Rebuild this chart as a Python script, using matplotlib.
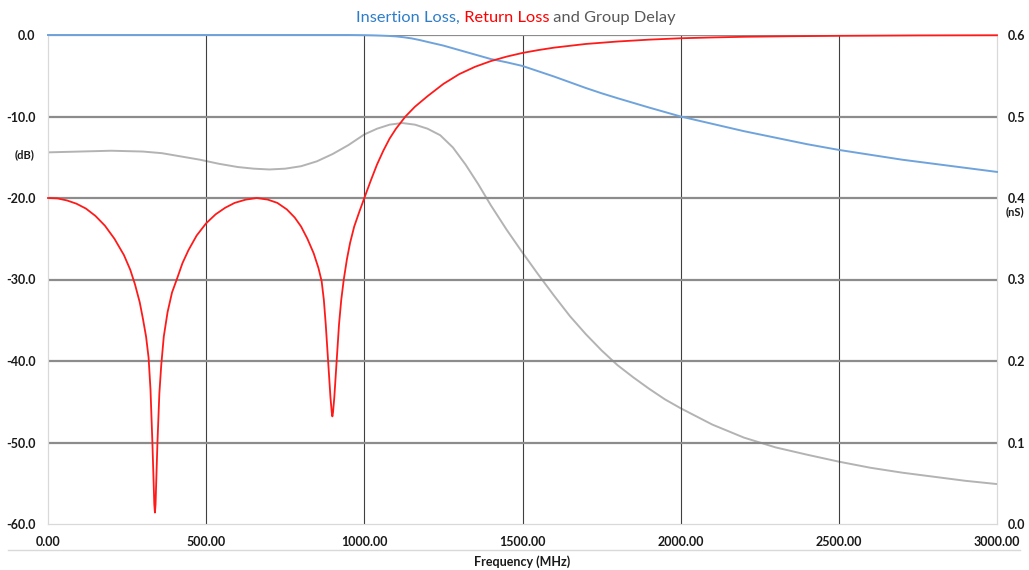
import numpy as np
import matplotlib
matplotlib.use("Agg")
import matplotlib.pyplot as plt
from matplotlib.lines import Line2D

plt.rcParams['font.family'] = ['Lato', 'DejaVu Sans']

# return loss (dB)
rl_freq = [0, 30, 60, 90, 120, 150, 180, 210, 240, 260, 275, 290, 300, 310, 318, 324,
           330, 334, 336, 338, 340, 342, 346, 352, 358, 366, 378, 392, 407, 425, 444,
           470, 500, 530, 560, 590, 625, 660, 695, 725, 755, 780, 800, 820, 840, 855,
           865, 872, 878, 883, 888, 893, 897, 899, 901, 905, 910, 915, 920, 927, 935,
           945, 955, 968, 985, 1000, 1020, 1040, 1060, 1080, 1100, 1130, 1160, 1200,
           1250, 1300, 1350, 1400, 1450, 1500, 1550, 1600, 1700, 1800, 1900, 2000,
           2100, 2200, 2350, 2500, 2750, 3000]
rl_db = [-20.0, -20.05, -20.3, -20.7, -21.3, -22.2, -23.4, -25.0, -27.0, -28.8, -30.6,
         -32.8, -34.8, -37.0, -39.6, -43.5, -50.0, -55.0, -57.6, -58.6, -57.6, -55.0,
         -50.0, -44.0, -40.5, -37.0, -34.0, -31.6, -30.0, -28.0, -26.4, -24.6, -23.1,
         -22.0, -21.2, -20.6, -20.2, -20.0, -20.2, -20.6, -21.4, -22.4, -23.5, -25.0,
         -26.8, -28.6, -30.2, -32.5, -35.5, -38.5, -41.5, -44.5, -46.3, -46.8, -46.3,
         -44.5, -41.5, -38.5, -35.5, -32.5, -30.0, -27.5, -25.5, -23.5, -21.6, -20.0,
         -17.9, -15.9, -14.2, -12.7, -11.5, -10.0, -8.8, -7.5, -6.0, -4.8, -3.9, -3.2,
         -2.65, -2.2, -1.85, -1.55, -1.1, -0.8, -0.57, -0.4, -0.3, -0.22, -0.15, -0.1,
         -0.05, -0.03]

# insertion loss (dB)
il_freq = [0, 500, 900, 950, 1000, 1025, 1050, 1075, 1100, 1125, 1150, 1175, 1200,
           1250, 1300, 1350, 1400, 1450, 1500, 1550, 1600, 1650, 1700, 1750, 1800,
           1900, 2000, 2100, 2200, 2300, 2400, 2500, 2600, 2700, 2800, 2900, 3000]
il_db = [0.0, 0.0, 0.0, 0.0, -0.02, -0.04, -0.07, -0.11, -0.17, -0.28, -0.42, -0.62,
         -0.85, -1.3, -1.85, -2.4, -2.95, -3.35, -3.8, -4.45, -5.1, -5.8, -6.5, -7.15,
         -7.75, -8.9, -10.0, -10.9, -11.8, -12.6, -13.4, -14.1, -14.7, -15.3, -15.8,
         -16.3, -16.8]

# group delay (nS)
gd_freq = [0, 100, 200, 300, 360, 420, 480, 540, 600, 650, 700, 750, 800, 850, 900,
           950, 1000, 1040, 1080, 1120, 1160, 1200, 1240, 1280, 1320, 1360, 1400, 1450,
           1500, 1550, 1600, 1650, 1700, 1750, 1800, 1850, 1900, 1950, 2000, 2100,
           2200, 2300, 2400, 2500, 2600, 2700, 2800, 2900, 3000]
gd_ns = [0.456, 0.457, 0.458, 0.457, 0.455, 0.451, 0.447, 0.442, 0.438, 0.436, 0.435,
         0.436, 0.439, 0.445, 0.454, 0.465, 0.478, 0.485, 0.490, 0.492, 0.490, 0.485,
         0.477, 0.462, 0.441, 0.417, 0.391, 0.361, 0.333, 0.306, 0.280, 0.255, 0.233,
         0.213, 0.195, 0.180, 0.166, 0.153, 0.142, 0.122, 0.106, 0.094, 0.085, 0.0765,
         0.069, 0.063, 0.058, 0.053, 0.049]

x_ticks = [0, 500, 1000, 1500, 2000, 2500, 3000]
db_ticks = [-60, -50, -40, -30, -20, -10, 0]
ns_ticks = [0.0, 0.1, 0.2, 0.3, 0.4, 0.5, 0.6]

W, H = 1029, 570
fig = plt.figure(figsize=(W / 100, H / 100), dpi=100)
ax = fig.add_axes([48 / W, 1 - 524 / H, (997 - 48) / W, (524 - 35) / H])
ax2 = ax.twinx()

ax.set_xlim(0, 3000)
ax.set_ylim(-60, 0)
ax2.set_ylim(0, 0.6)

# grid: dark vertical, gray horizontal
for xv in x_ticks[1:-1]:
    ax.axvline(xv, color='#404040', lw=0.8, zorder=1)
for yv in db_ticks[1:]:
    ax.axhline(yv, color='#8c8c8c', lw=1.6, zorder=1)

ax2.plot(gd_freq, gd_ns, color='#b3b3b3', lw=1.4, zorder=3)
ax.plot(il_freq, il_db, color='#6fa3dc', lw=1.4, zorder=4, clip_on=False)
ax.plot(rl_freq, rl_db, color='#ff1a1a', lw=1.3, zorder=5, clip_on=False)
ax.set_zorder(ax2.get_zorder() + 1)
ax.patch.set_visible(False)

tick_font = dict(fontsize=9, fontweight='bold', color='#1a1a1a')
ax.set_xticks(x_ticks)
ax.set_xticklabels([f"{v:.2f}" for v in x_ticks], **tick_font)
ax.set_yticks(db_ticks)
ax.set_yticklabels([f"{v:.1f}" for v in db_ticks], **tick_font)
ax2.set_yticks(ns_ticks)
ax2.set_yticklabels([f"{v:.1f}" for v in ns_ticks], **tick_font)
ax.tick_params(axis='x', length=0, pad=9)
ax.tick_params(axis='y', length=0, pad=9)
ax2.tick_params(axis='y', length=0, pad=8)

for a in (ax, ax2):
    for side in ('top', 'left', 'bottom', 'right'):
        a.spines[side].set_color('#d9d9d9')
    a.spines['top'].set_visible(False)

ax.set_xlabel("Frequency (MHz)", fontsize=9, fontweight='bold', color='#1a1a1a', labelpad=5)
fig.text(25 / W, 1 - 155 / H, "(dB)", fontsize=8, fontweight='bold', color='#1a1a1a',
         ha='center', va='center')
fig.text(1015 / W, 1 - 212 / H, "(nS)", fontsize=8, fontweight='bold', color='#1a1a1a',
         ha='center', va='center')

# separator line between tick labels and axis title
fig.add_artist(Line2D([8 / W, 1020 / W], [1 - 550 / H] * 2, color='#d9d9d9', lw=1.0))

# multi-coloured title
title_parts = [("Insertion Loss,", '#2e7dc9'), (" Return Loss", '#ff0000'),
               (" and Group Delay", '#595959')]
title_size = 11.8
renderer = fig.canvas.get_renderer()


def text_width(s):
    t = fig.text(0, 0, s + "|", fontsize=title_size)
    ref = fig.text(0, 0, "|", fontsize=title_size)
    w = t.get_window_extent(renderer).width - ref.get_window_extent(renderer).width
    t.remove()
    ref.remove()
    return w


full = "".join(p for p, _ in title_parts)
x0 = 516 - text_width(full) / 2
prefix = ""
for s, c in title_parts:
    fig.text((x0 + text_width(prefix)) / W, 1 - 18 / H, s, color=c, fontsize=title_size,
             ha='left', va='center')
    prefix += s

fig.savefig("out.png", dpi=100)
